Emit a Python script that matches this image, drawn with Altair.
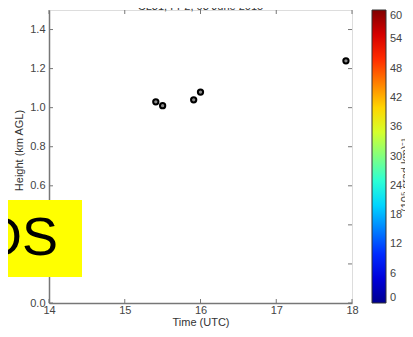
import altair as alt
import pandas as pd

# ---- data ----
time_utc = [15.41, 15.50, 15.91, 16.00, 17.92]
height_km = [1.03, 1.01, 1.04, 1.08, 1.24]

x_ticks = [14, 15, 16, 17, 18]
y_ticks = [0.0, 0.2, 0.4, 0.6, 0.8, 1.0, 1.2, 1.4]
cbar_ticks = [0, 6, 12, 18, 24, 30, 36, 42, 48, 54, 60]

# jet colormap stops (value -> colour)
jet_stops = [0, 7.5, 22.5, 30, 37.5, 52.5, 60]
jet_colors = ["#00008f", "#0000ff", "#00ffff", "#80ff80", "#ffff00", "#ff0000", "#800000"]

title_text = "CL31, FP2, 03 June 2015"
cbar_title = "(10\u2075 srad km)\u207b\u00b9"
overlay_text = "OS"

W, H = 303, 293
AX_GRAY = "#777777"
LAB_GRAY = "#444444"

pts = pd.DataFrame({"time": time_utc, "height": height_km})
xt = pd.DataFrame({"time": x_ticks})
yt = pd.DataFrame({"height": y_ticks})
cb = pd.DataFrame({"v": cbar_ticks})

xscale = alt.Scale(domain=[14, 18], nice=False, zero=False)
yscale = alt.Scale(domain=[0, 1.5], nice=False, zero=True)

xaxis = alt.Axis(values=x_ticks, title="Time (UTC)", ticks=False, grid=False,
                 domainColor=AX_GRAY, domainWidth=1.5, labelColor=LAB_GRAY, labelFontSize=11,
                 labelPadding=1, labelFlush=False, titleFontSize=11, titleFontWeight="normal",
                 titleColor="#333333", titleY=22.5, titleBaseline="alphabetic",
                 format="d", labelFont="Liberation Sans", titleFont="Liberation Sans")
yaxis = alt.Axis(values=y_ticks, title="Height (km AGL)", ticks=False, grid=False,
                 domainColor=AX_GRAY, domainWidth=1.5, labelColor=LAB_GRAY, labelFontSize=11,
                 labelPadding=4, labelFlush=False, titleFontSize=11, titleFontWeight="normal",
                 titleColor="#333333", titlePadding=5, format=".1f", labelFont="Liberation Sans",
                 titleFont="Liberation Sans", titleY=140)

X = alt.X("time:Q", scale=xscale, axis=xaxis)
Y = alt.Y("height:Q", scale=yscale, axis=yaxis)

points = alt.Chart(pts).mark_point(shape="circle", filled=True, fill="#888888",
                                   stroke="black", strokeWidth=2, size=28, opacity=1).encode(x=X, y=Y)

tick_len = 4
left_ticks = alt.Chart(yt).mark_rule(color=AX_GRAY, strokeWidth=1).encode(
    y=Y, x=alt.value(0), x2=alt.value(tick_len))
right_ticks = alt.Chart(yt).mark_rule(color=AX_GRAY, strokeWidth=1).encode(
    y=Y, x=alt.value(W - tick_len), x2=alt.value(W))
bottom_ticks = alt.Chart(xt).mark_rule(color=AX_GRAY, strokeWidth=1).encode(
    x=X, y=alt.value(H), y2=alt.value(H - tick_len))
top_ticks = alt.Chart(xt).mark_rule(color=AX_GRAY, strokeWidth=1).encode(
    x=X, y=alt.value(0), y2=alt.value(tick_len))

cbar = alt.Chart(cb).mark_point(opacity=0).encode(
    x=alt.value(0), y=alt.value(0),
    color=alt.Color("v:Q",
                    scale=alt.Scale(domain=jet_stops, range=jet_colors, interpolate="rgb"),
                    legend=alt.Legend(orient="none", legendX=323, legendY=0, direction="vertical",
                                      gradientLength=H, gradientThickness=14, values=cbar_ticks,
                                      title=None, labelFontSize=11, labelColor=LAB_GRAY,
                                      labelFont="Liberation Sans",
                                      labelOffset=4, labelOverlap=False,
                                      gradientStrokeColor="#333333", gradientStrokeWidth=1,
                                      padding=0)))

cbar_label = alt.Chart(pd.DataFrame({"t": [cbar_title]})).mark_text(
    angle=270, align="center", baseline="middle", fontSize=11, color=LAB_GRAY,
    font="Liberation Sans").encode(text="t:N", x=alt.value(357), y=alt.value(165))

title = alt.Chart(pd.DataFrame({"t": [title_text]})).mark_text(
    align="center", baseline="alphabetic", fontSize=11, color="#333333",
    font="Liberation Sans").encode(text="t:N", x=alt.value(W / 2), y=alt.value(0))

box = alt.Chart(pd.DataFrame({"t": [overlay_text]})).mark_rect(color="#ffff00").encode(
    x=alt.value(-49), x2=alt.value(33), y=alt.value(190), y2=alt.value(267))
box_text = alt.Chart(pd.DataFrame({"t": [overlay_text]})).mark_text(
    align="right", baseline="alphabetic", fontSize=54, color="black",
    font="Liberation Sans").encode(text="t:N", x=alt.value(9), y=alt.value(245))

chart = alt.layer(
    points, left_ticks, right_ticks, bottom_ticks, top_ticks, cbar, cbar_label, title, box, box_text
).properties(
    width=W, height=H,
    autosize=alt.AutoSizeParams(type="none"),
    padding={"left": 41, "top": 2, "right": 53, "bottom": 25},
).configure_view(stroke=AX_GRAY, strokeWidth=1.5).configure(background="white")

chart.save("out.html", embed_options={"renderer": "svg", "actions": False})
